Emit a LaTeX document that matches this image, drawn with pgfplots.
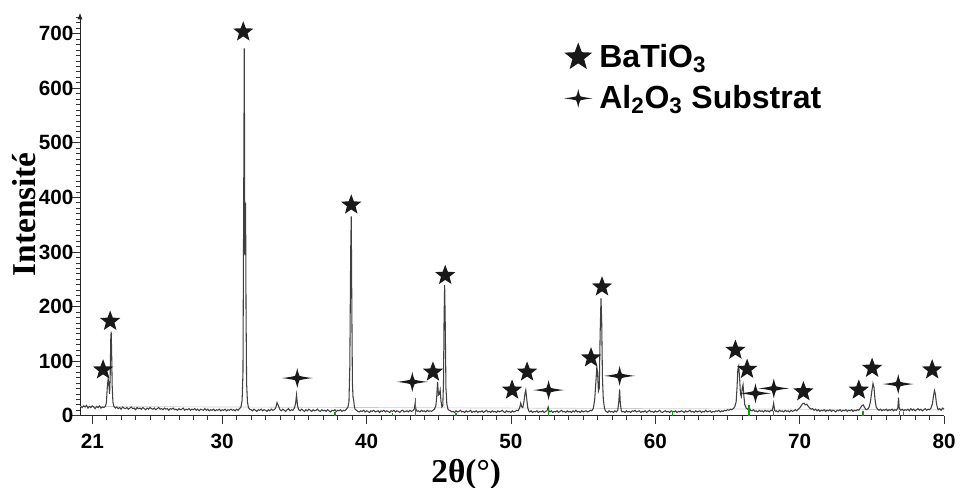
\documentclass[border=0pt]{standalone}
\usepackage{fontspec}
\setmainfont{Liberation Sans}
\newfontfamily\tnr{Liberation Serif}
\usepackage{pgfplots}
\pgfplotsset{compat=1.18}
\usetikzlibrary{arrows.meta}

\pgfdeclareplotmark{bstar}{%
  \pgfpathmoveto{\pgfpointpolar{90}{\pgfplotmarksize}}%
  \pgfpathlineto{\pgfpointpolar{126}{0.42\pgfplotmarksize}}%
  \pgfpathlineto{\pgfpointpolar{162}{\pgfplotmarksize}}%
  \pgfpathlineto{\pgfpointpolar{198}{0.42\pgfplotmarksize}}%
  \pgfpathlineto{\pgfpointpolar{234}{\pgfplotmarksize}}%
  \pgfpathlineto{\pgfpointpolar{270}{0.42\pgfplotmarksize}}%
  \pgfpathlineto{\pgfpointpolar{306}{\pgfplotmarksize}}%
  \pgfpathlineto{\pgfpointpolar{342}{0.42\pgfplotmarksize}}%
  \pgfpathlineto{\pgfpointpolar{18}{\pgfplotmarksize}}%
  \pgfpathlineto{\pgfpointpolar{54}{0.42\pgfplotmarksize}}%
  \pgfpathclose\pgfusepathqfill}
\pgfdeclareplotmark{astar}{%
  \pgfpathmoveto{\pgfpoint{1.55\pgfplotmarksize}{0pt}}%
  \pgfpathcurveto{\pgfpoint{0.6\pgfplotmarksize}{0.1\pgfplotmarksize}}{\pgfpoint{0.3\pgfplotmarksize}{0.2\pgfplotmarksize}}{\pgfpoint{0.22\pgfplotmarksize}{0.22\pgfplotmarksize}}%
  \pgfpathcurveto{\pgfpoint{0.16\pgfplotmarksize}{0.35\pgfplotmarksize}}{\pgfpoint{0.08\pgfplotmarksize}{0.6\pgfplotmarksize}}{\pgfpoint{0pt}{\pgfplotmarksize}}%
  \pgfpathcurveto{\pgfpoint{-0.08\pgfplotmarksize}{0.6\pgfplotmarksize}}{\pgfpoint{-0.16\pgfplotmarksize}{0.35\pgfplotmarksize}}{\pgfpoint{-0.22\pgfplotmarksize}{0.22\pgfplotmarksize}}%
  \pgfpathcurveto{\pgfpoint{-0.3\pgfplotmarksize}{0.2\pgfplotmarksize}}{\pgfpoint{-0.6\pgfplotmarksize}{0.1\pgfplotmarksize}}{\pgfpoint{-1.55\pgfplotmarksize}{0pt}}%
  \pgfpathcurveto{\pgfpoint{-0.6\pgfplotmarksize}{-0.1\pgfplotmarksize}}{\pgfpoint{-0.3\pgfplotmarksize}{-0.2\pgfplotmarksize}}{\pgfpoint{-0.22\pgfplotmarksize}{-0.22\pgfplotmarksize}}%
  \pgfpathcurveto{\pgfpoint{-0.16\pgfplotmarksize}{-0.35\pgfplotmarksize}}{\pgfpoint{-0.08\pgfplotmarksize}{-0.6\pgfplotmarksize}}{\pgfpoint{0pt}{-\pgfplotmarksize}}%
  \pgfpathcurveto{\pgfpoint{0.08\pgfplotmarksize}{-0.6\pgfplotmarksize}}{\pgfpoint{0.16\pgfplotmarksize}{-0.35\pgfplotmarksize}}{\pgfpoint{0.22\pgfplotmarksize}{-0.22\pgfplotmarksize}}%
  \pgfpathcurveto{\pgfpoint{0.3\pgfplotmarksize}{-0.2\pgfplotmarksize}}{\pgfpoint{0.6\pgfplotmarksize}{-0.1\pgfplotmarksize}}{\pgfpoint{1.55\pgfplotmarksize}{0pt}}%
  \pgfpathclose\pgfusepathqfill}

\begin{document}
\begin{tikzpicture}
\useasboundingbox (-60pt,-54.2pt) rectangle (662.25pt,311.8pt);
\begin{axis}[
  at={(0,0)}, anchor=south west,
  scale only axis, width=648pt, height=302.2pt,
  xmin=20.15, xmax=80, ymin=0, ymax=738,
  axis x line=bottom, axis y line=left,
  x axis line style={-},
  y axis line style={-{Latex[length=5pt,width=4pt]}},
  axis line style={line width=0.7pt, black!85},
  xtick={21,30,40,50,60,70,80},
  minor xtick={21,22,...,80},
  ytick={0,100,...,700},
  minor ytick={10,20,...,730},
  tick align=outside,
  major tick length=6pt, minor tick length=3pt,
  tick style={black!80, line width=0.5pt},
  /pgf/number format/assume math mode=true,
  ticklabel style={font=\fontsize{15.5}{18}\selectfont\bfseries},
  xticklabel style={yshift=-4pt},
  yticklabel style={xshift=4.5pt},
  xlabel={\tnr\bfseries 2θ(°)},
  ylabel={\tnr\bfseries Intensité},
  every axis x label/.style={font=\fontsize{25}{30}\selectfont, at={(axis description cs:0.447,-0.145)}, anchor=center},
  every axis y label/.style={font=\fontsize{25}{30}\selectfont, at={(axis description cs:-0.065,0.5)}, anchor=center, rotate=90},
  clip=false,
  legend style={draw=none, fill=none, at={(rel axis cs:0.555,0.935)}, anchor=north west,
    font=\fontsize{24}{28}\selectfont\bfseries, row sep=8pt, column sep=3pt},
  legend cell align=left,
]
\addlegendimage{only marks, mark=bstar, mark size=11pt, black!90}
\addlegendentry{BaTiO\textsubscript{3}}
\addlegendimage{only marks, mark=astar, mark size=7pt, black!90}
\addlegendentry{Al\textsubscript{2}O\textsubscript{3} Substrat}

% faint reference line
\addplot[gray!40, line width=0.5pt, forget plot] coordinates {(20.15,17) (80,11)};

% measured pattern
\addplot[black!75, line width=0.8pt, forget plot] coordinates {
(20.2,17)(20.3,15)(20.4,18)(20.5,16)(20.6,19)(20.7,14)(20.8,17)(20.9,15)(21.0,18)(21.1,16)(21.2,13)(21.3,17)(21.4,15)(21.5,18)(21.6,14)(21.7,16)(21.8,15)(21.9,17)
(21.98,24)(22.04,52)(22.1,68)(22.15,58)(22.2,40)(22.24,70)(22.28,140)(22.31,154)(22.34,120)(22.38,55)(22.43,25)(22.5,17)
(22.6,14)(22.7,16)(22.8,13)(22.9,15)(23.0,12)(23.1,16)(23.2,14)(23.3,13)(23.4,15)(23.5,12)(23.6,14)(23.7,16)(23.8,13)(23.9,14)(24.0,11)(24.1,15)(24.2,13)(24.3,14)(24.4,12)(24.5,15)(24.6,13)(24.7,11)(24.8,14)(24.9,12)(25.0,15)(25.1,13)(25.2,12)(25.3,14)(25.4,11)(25.5,13)(25.6,15)(25.7,12)(25.8,13)(25.9,11)(26.0,14)(26.1,12)(26.2,13)(26.3,10)(26.4,13)(26.5,12)(26.6,14)(26.7,11)(26.8,12)(26.9,10)(27.0,13)(27.1,11)(27.2,12)(27.3,14)(27.4,10)(27.5,12)(27.6,11)(27.7,13)(27.8,10)(27.9,12)(28.0,11)(28.1,13)(28.2,10)(28.3,12)(28.4,9)(28.5,12)(28.6,11)(28.7,10)(28.8,13)(28.9,10)(29.0,12)(29.1,9)(29.2,11)(29.3,10)(29.4,12)(29.5,9)(29.6,11)(29.7,10)(29.8,12)(29.9,9)(30.0,11)(30.1,10)(30.2,12)(30.3,9)(30.4,11)(30.5,10)(30.6,12)(30.7,10)(30.8,11)(30.9,9)(31.0,12)(31.1,10)(31.2,13)(31.3,16)
(31.38,28)(31.44,80)(31.49,400)(31.53,673)(31.57,300)(31.59,294)(31.62,390)(31.65,200)(31.69,60)(31.75,25)(31.82,15)(31.9,12)
(32.0,11)(32.1,9)(32.2,12)(32.3,10)(32.4,8)(32.5,11)(32.6,10)(32.7,12)(32.8,9)(32.9,11)(33.0,10)(33.1,8)(33.2,11)(33.3,9)(33.4,12)(33.5,10)(33.6,11)(33.7,14)(33.8,24)(33.9,18)(34.0,11)(34.1,9)(34.2,12)(34.3,10)(34.4,8)(34.5,11)(34.6,13)(34.7,9)(34.8,11)(34.9,10)(35.0,14)(35.08,22)(35.15,38)(35.22,18)(35.3,11)(35.4,9)(35.5,12)(35.6,10)(35.7,8)(35.8,11)(35.9,9)(36.0,12)(36.1,10)(36.2,8)(36.3,11)(36.4,9)(36.5,10)(36.6,12)(36.7,9)(36.8,8)(36.9,11)(37.0,9)(37.1,10)(37.2,8)(37.3,11)(37.4,9)(37.5,7)(37.6,10)(37.7,9)(37.8,11)(37.9,8)(38.0,10)(38.1,9)(38.2,11)(38.3,8)(38.4,10)(38.5,9)(38.6,12)(38.7,15)
(38.78,25)(38.84,90)(38.9,300)(38.94,365)(38.98,200)(39.02,60)(39.06,35)(39.1,30)(39.15,18)(39.2,12)
(39.3,10)(39.4,8)(39.5,7)(39.6,9)(39.7,8)(39.8,10)(39.9,7)(40.0,9)(40.1,8)(40.2,6)(40.3,9)(40.4,8)(40.5,10)(40.6,7)(40.7,8)(40.8,9)(40.9,6)(41.0,9)(41.1,8)(41.2,10)(41.3,7)(41.4,9)(41.5,8)(41.6,6)(41.7,9)(41.8,8)(41.9,10)(42.0,7)(42.1,9)(42.2,8)(42.3,6)(42.4,9)(42.5,10)(42.6,7)(42.7,8)(42.8,9)(42.9,7)(43.0,10)(43.1,8)(43.2,9)(43.3,12)(43.36,22)(43.42,12)(43.5,8)(43.6,9)(43.7,7)(43.8,10)(43.9,8)(44.0,9)(44.1,7)(44.2,10)(44.3,8)(44.4,9)(44.5,8)(44.6,10)(44.7,12)(44.8,18)
(44.86,35)(44.92,62)(44.98,38)(45.04,40)(45.1,47)(45.15,28)(45.22,16)(45.28,18)(45.33,60)(45.37,180)(45.41,239)(45.45,170)(45.5,50)(45.56,22)(45.64,12)(45.72,10)
(45.8,9)(45.9,7)(46.0,8)(46.1,6)(46.2,9)(46.3,7)(46.4,8)(46.5,10)(46.6,7)(46.7,8)(46.8,6)(46.9,9)(47.0,7)(47.1,8)(47.2,10)(47.3,6)(47.4,8)(47.5,7)(47.6,9)(47.7,6)(47.8,8)(47.9,7)(48.0,9)(48.1,6)(48.2,8)(48.3,10)(48.4,7)(48.5,8)(48.6,6)(48.7,9)(48.8,7)(48.9,8)(49.0,6)(49.1,9)(49.2,7)(49.3,8)(49.4,10)(49.5,7)(49.6,6)(49.7,9)(49.8,7)(49.9,8)(50.0,6)(50.1,9)(50.2,7)(50.3,8)(50.4,10)(50.5,9)(50.6,14)(50.68,23)(50.75,16)(50.82,15)(50.9,25)(50.97,40)(51.03,47)(51.1,30)(51.17,14)(51.25,8)
(51.3,7)(51.4,9)(51.5,6)(51.6,8)(51.7,7)(51.8,9)(51.9,6)(52.0,8)(52.1,7)(52.2,9)(52.3,6)(52.4,8)(52.5,9)(52.58,16)(52.65,8)(52.7,7)(52.8,9)(52.9,6)(53.0,8)(53.1,7)(53.2,9)(53.3,6)(53.4,8)(53.5,10)(53.6,7)(53.7,8)(53.8,6)(53.9,9)(54.0,7)(54.1,8)(54.2,6)(54.3,9)(54.4,7)(54.5,10)(54.6,7)(54.7,8)(54.8,6)(54.9,9)(55.0,7)(55.1,8)(55.2,9)(55.3,7)(55.4,8)(55.5,10)(55.6,9)(55.7,13)
(55.8,28)(55.88,60)(55.95,89)(56.0,80)(56.06,45)(56.12,50)(56.18,150)(56.24,215)(56.29,170)(56.34,70)(56.4,30)(56.48,14)(56.55,9)
(56.6,8)(56.7,6)(56.8,9)(56.9,7)(57.0,8)(57.1,6)(57.2,9)(57.3,7)(57.4,10)(57.47,25)(57.53,48)(57.58,22)(57.65,9)(57.7,7)(57.8,8)(57.9,6)(58.0,9)(58.1,7)(58.2,8)(58.3,6)(58.4,9)(58.5,8)(58.6,10)(58.7,7)(58.8,8)(58.9,9)(59.0,6)(59.1,8)(59.2,7)(59.3,9)(59.4,6)(59.5,8)(59.6,10)(59.7,7)(59.8,8)(59.9,6)(60.0,9)(60.1,7)(60.2,8)(60.3,10)(60.4,7)(60.5,6)(60.6,8)(60.7,9)(60.8,7)(60.9,8)(61.0,6)(61.1,9)(61.2,8)(61.3,7)(61.4,9)(61.5,6)(61.6,8)(61.7,7)(61.8,9)(61.9,8)(62.0,6)(62.1,9)(62.2,7)(62.3,8)(62.4,10)(62.5,7)(62.6,8)(62.7,6)(62.8,9)(62.9,7)(63.0,8)(63.1,9)(63.2,6)(63.3,8)(63.4,7)(63.5,10)(63.6,7)(63.7,8)(63.8,9)(63.9,6)(64.0,8)(64.1,7)(64.2,9)(64.3,8)(64.4,10)(64.5,7)(64.6,9)(64.7,8)(64.8,10)(64.9,9)(65.0,11)(65.1,10)(65.2,12)(65.3,11)(65.4,13)(65.5,16)
(65.6,25)(65.66,50)(65.72,85)(65.78,91)(65.84,70)(65.9,40)(65.96,35)(66.02,50)(66.08,57)(66.14,35)(66.2,20)(66.3,14)(66.4,12)(66.5,15)(66.6,10)(66.7,9)(66.8,11)(66.9,8)
(67.0,9)(67.1,7)(67.2,10)(67.3,8)(67.4,9)(67.5,7)(67.6,10)(67.7,8)(67.8,9)(67.9,7)(68.0,10)(68.1,9)(68.2,23)(68.27,10)(68.35,8)(68.4,9)(68.5,7)(68.6,10)(68.7,8)(68.8,9)(68.9,7)(69.0,10)(69.1,8)(69.2,9)(69.3,7)(69.4,10)(69.5,8)(69.6,9)(69.7,11)(69.8,9)(69.9,12)(70.0,14)(70.1,18)(70.2,22)(70.3,23)(70.4,20)(70.5,21)(70.6,17)(70.7,14)(70.8,12)(70.9,13)(71.0,10)(71.1,12)(71.2,9)(71.3,11)(71.4,8)(71.5,10)(71.6,9)(71.7,11)(71.8,8)(71.9,10)(72.0,9)(72.1,11)(72.2,8)(72.3,10)(72.4,9)(72.5,7)(72.6,10)(72.7,9)(72.8,11)(72.9,8)(73.0,10)(73.1,9)(73.2,11)(73.3,8)(73.4,10)(73.5,9)(73.6,11)(73.7,8)(73.8,10)(73.9,9)(74.0,11)(74.1,10)(74.2,14)(74.3,18)(74.4,20)(74.5,15)(74.6,11)(74.7,12)(74.8,15)(74.9,25)(75.0,45)(75.08,59)(75.15,52)(75.22,30)(75.3,16)(75.4,12)(75.5,10)(75.6,12)(75.7,9)(75.8,11)(75.9,10)(76.0,12)(76.1,9)(76.2,11)(76.3,10)(76.4,12)(76.5,9)(76.6,11)(76.7,10)(76.8,14)(76.85,33)(76.9,14)(77.0,10)(77.1,12)(77.2,9)(77.3,11)(77.4,10)(77.5,12)(77.6,9)(77.7,13)(77.8,10)(77.9,12)(78.0,9)(78.1,11)(78.2,13)(78.3,10)(78.4,12)(78.5,9)(78.6,11)(78.7,13)(78.8,10)(78.9,12)(79.0,11)(79.1,14)(79.2,22)(79.28,38)(79.34,46)(79.4,40)(79.48,22)(79.55,14)(79.6,11)(79.7,13)(79.8,10)(79.9,14)(80.0,12)
};

% reference pattern ticks (green)
\addplot[ycomb, green!65!black, line width=1.1pt, forget plot] coordinates {
(37.8,6)(41.8,5)(43.38,33)(46.2,5)(52.6,10)(61.2,8)(66.5,20)(68.2,9)(74.4,8)(76.9,9)(77.2,7)};

% BaTiO3 markers
\addplot[only marks, mark=bstar, mark size=8pt, black!90, forget plot] coordinates {
(21.75,84)(22.24,173)(31.46,703)(38.94,386)(44.6,80)(45.45,257)(50.08,47)(51.12,80)(55.55,106)(56.31,236)(65.55,120)(66.36,85)(70.26,44)(74.1,47)(75.02,87)(79.18,84)};

% Al2O3 markers
\addplot[only marks, mark=astar, mark size=7.5pt, black!90, forget plot] coordinates {
(35.2,69)(43.17,62)(52.61,47)(57.53,73)(66.94,41)(68.21,50)(76.83,58)};
\end{axis}
\end{tikzpicture}
\end{document}
